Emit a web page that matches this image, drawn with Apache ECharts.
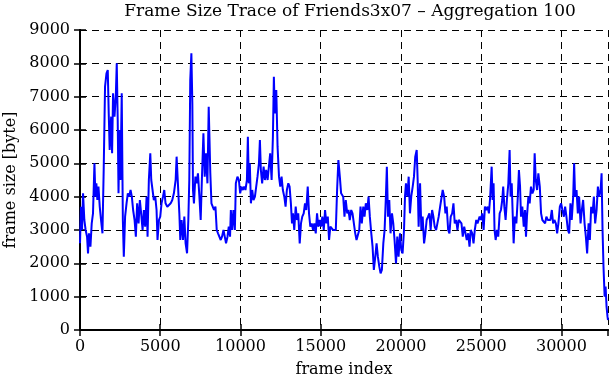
<!DOCTYPE html>
<html>
<head>
<meta charset="utf-8">
<script src="https://cdn.jsdelivr.net/npm/echarts@6/dist/echarts.min.js"></script>
<style>
html, body { margin: 0; padding: 0; background: #fff; }
#chart { width: 611px; height: 380px; }
</style>
</head>
<body>
<div id="chart"></div>
<script>
// frame index of each aggregated sample
var frameIdx = [
    0, 60, 125, 190, 270, 350, 440, 500, 560, 650, 730, 810, 900, 960, 1020, 1080, 1150, 1230, 1310, 1400,
    1480, 1560, 1650, 1730, 1790, 1850, 1940, 2000, 2060, 2150, 2230, 2290, 2350, 2400, 2460, 2520, 2600, 2670, 2730, 2810,
    2900, 2980, 3060, 3150, 3230, 3310, 3400, 3480, 3560, 3650, 3730, 3810, 3900, 3980, 4060, 4150, 4210, 4290, 4380, 4440,
    4520, 4600, 4690, 4770, 4830, 4920, 5000, 5080, 5170, 5250, 5330, 5440, 5540, 5650, 5750, 5850, 5960, 6020, 6100, 6190,
    6250, 6330, 6420, 6500, 6580, 6670, 6750, 6810, 6870, 6940, 7000, 7040, 7100, 7190, 7270, 7350, 7440, 7520, 7600, 7690,
    7770, 7850, 7940, 8020, 8120, 8190, 8270, 8350, 8440, 8520, 8600, 8690, 8770, 8850, 8940, 9020, 9100, 9190, 9270, 9350,
    9400, 9480, 9560, 9650, 9710, 9810, 9900, 9980, 10060, 10150, 10230, 10310, 10400, 10460, 10520, 10580, 10650, 10730, 10810, 10900,
    10980, 11060, 11150, 11210, 11270, 11350, 11440, 11520, 11600, 11690, 11770, 11850, 11940, 12020, 12080, 12140, 12230, 12310, 12400, 12480,
    12560, 12640, 12730, 12810, 12890, 12980, 13060, 13140, 13210, 13270, 13350, 13440, 13520, 13600, 13690, 13770, 13850, 13940, 14020, 14100,
    14190, 14270, 14350, 14440, 14520, 14600, 14690, 14770, 14850, 14940, 15020, 15100, 15190, 15270, 15350, 15440, 15520, 15600, 15690, 15770,
    15850, 15940, 16020, 16100, 16190, 16270, 16400, 16480, 16560, 16650, 16730, 16810, 16900, 16980, 17060, 17150, 17230, 17310, 17400, 17480,
    17560, 17650, 17730, 17810, 17900, 17980, 18060, 18150, 18230, 18310, 18400, 18480, 18560, 18650, 18730, 18810, 18900, 18980, 19060, 19120,
    19190, 19270, 19350, 19440, 19520, 19600, 19690, 19770, 19850, 19940, 20020, 20100, 20190, 20250, 20310, 20400, 20480, 20560, 20640, 20730,
    20810, 20890, 20980, 21040, 21100, 21190, 21270, 21350, 21440, 21520, 21600, 21690, 21770, 21850, 21940, 22020, 22100, 22190, 22270, 22350,
    22440, 22520, 22600, 22690, 22770, 22850, 22940, 23020, 23100, 23190, 23270, 23350, 23440, 23520, 23600, 23690, 23770, 23850, 23940, 24020,
    24100, 24190, 24270, 24350, 24440, 24520, 24600, 24690, 24770, 24900, 24980, 25060, 25150, 25230, 25310, 25400, 25480, 25560, 25650, 25710,
    25770, 25830, 25900, 25980, 26060, 26150, 26230, 26310, 26370, 26440, 26520, 26600, 26690, 26770, 26830, 26900, 26960, 27020, 27100, 27190,
    27270, 27350, 27420, 27480, 27560, 27650, 27730, 27790, 27850, 27940, 28020, 28100, 28190, 28270, 28330, 28400, 28480, 28560, 28650, 28730,
    28810, 28900, 28980, 29060, 29150, 29230, 29310, 29400, 29480, 29560, 29650, 29730, 29810, 29900, 29980, 30060, 30150, 30230, 30310, 30400,
    30480, 30560, 30640, 30730, 30790, 30850, 30940, 31020, 31100, 31190, 31270, 31350, 31440, 31520, 31600, 31690, 31770, 31850, 31940, 32020,
    32100, 32190, 32270, 32350, 32440, 32500, 32560, 32620, 32690, 32750, 32810, 32870, 32900
];
// frame size in bytes
var frameSize = [
    2600, 3700, 3000, 4100, 3300, 3000, 2800, 2300, 2900, 2500, 3200, 3500, 5000, 4000, 4400, 3900, 4300, 3700, 3300, 2900,
    4900, 7300, 7700, 7800, 6500, 5400, 6400, 5300, 7100, 6400, 7000, 8000, 6300, 4100, 6000, 4500, 7100, 3300, 2200, 3400,
    3800, 4100, 4000, 4200, 4000, 3600, 3300, 2800, 3800, 3200, 3900, 3500, 3000, 3600, 3100, 4000, 2800, 4500, 5300, 4500,
    4200, 3900, 4000, 3600, 2700, 3300, 3400, 3800, 4000, 4200, 3800, 3700, 3700, 3800, 3900, 4100, 4500, 5200, 4400, 3500,
    2700, 3300, 2700, 3400, 2600, 2300, 3300, 4500, 7500, 8300, 6800, 4200, 3800, 4600, 4400, 4700, 4000, 3300, 4600, 5900,
    4600, 5300, 4400, 6700, 4700, 3800, 3700, 3600, 3700, 3000, 2900, 2900, 2700, 2800, 3000, 2800, 2600, 2800, 3100, 2800,
    3600, 3000, 3600, 3000, 4400, 4600, 4500, 4100, 4300, 4200, 4300, 4200, 4500, 5800, 4400, 5000, 3800, 4200, 3900, 4000,
    4000, 4600, 5000, 5700, 4800, 4400, 4900, 4500, 4800, 4500, 4900, 5300, 4500, 5800, 7600, 6500, 7200, 5500, 4600, 4300,
    4600, 4200, 4000, 3700, 4200, 4400, 4300, 3800, 3200, 3500, 3000, 3700, 3300, 3500, 2600, 3200, 3400, 3500, 3800, 3600,
    4300, 3500, 3100, 3200, 3000, 3200, 2900, 3500, 3100, 3300, 3100, 3400, 3000, 3600, 3200, 3400, 2700, 3100, 3100, 3000,
    3000, 3000, 4200, 5100, 4600, 4100, 4000, 3400, 3900, 3500, 3600, 3300, 3600, 3500, 3500, 2900, 2700, 2700, 3000, 3700,
    3200, 3700, 3400, 3800, 3600, 4000, 3400, 2900, 2500, 1800, 2200, 2600, 2200, 1900, 1700, 1800, 2600, 3000, 4000, 4900,
    3400, 3900, 2900, 3500, 3200, 2700, 2000, 2800, 2200, 2900, 2400, 2300, 3000, 4000, 4400, 4000, 4600, 3500, 4000, 4300,
    4600, 5200, 5400, 4500, 3100, 4400, 3000, 3400, 2600, 2900, 3300, 3400, 3500, 3000, 3600, 3400, 3100, 3000, 3200, 3400,
    3700, 3700, 4200, 4000, 3500, 3700, 3000, 2900, 3400, 3500, 3800, 3200, 3300, 3000, 3300, 3300, 3200, 2800, 3100, 3100,
    2700, 2900, 2500, 3000, 2900, 2600, 3000, 3300, 3200, 3400, 3300, 3500, 3000, 3700, 3600, 3700, 3500, 4000, 4900, 3900,
    4400, 3000, 2700, 3000, 2800, 3500, 3600, 3900, 4300, 3700, 3300, 3900, 4400, 5400, 4000, 4400, 3500, 2600, 3400, 3200,
    3900, 4800, 4300, 3400, 3700, 3100, 3600, 2800, 3400, 4000, 3800, 4300, 4100, 4200, 5300, 4500, 4200, 4700, 4300, 3500,
    3300, 3300, 3200, 3400, 3300, 3300, 3300, 3600, 3200, 3300, 3200, 2900, 3200, 3700, 3800, 3600, 3400, 3700, 3400, 3000,
    2900, 3800, 3300, 4000, 5000, 4000, 4200, 3500, 4000, 3200, 3600, 3900, 3200, 2800, 2300, 3200, 2700, 3700, 3500, 4000,
    3200, 3600, 4300, 4000, 4200, 4700, 3000, 1900, 1000, 1300, 700, 400, 300
];
var xTicks = [0, 5000, 10000, 15000, 20000, 25000, 30000];
var yTicks = [0, 1000, 2000, 3000, 4000, 5000, 6000, 7000, 8000, 9000];

var serif = 'DejaVu Serif';
var points = [];
for (var i = 0; i < frameIdx.length; i++) {
    points.push([frameIdx[i], frameSize[i]]);
}

var dashed = { show: true, lineStyle: { color: '#000', type: [7, 5], width: 1 } };
var boxLine = { show: true, lineStyle: { color: '#000', width: 2 } };
var inTick = { show: true, inside: true, length: 6, lineStyle: { color: '#000', width: 1.5 } };

var myChart = echarts.init(document.getElementById('chart'));
var option = {
    animation: false,
    backgroundColor: '#fff',
    title: {
        text: 'Frame Size Trace of Friends3x07 \u2013 Aggregation 100',
        left: 345,
        textAlign: 'center',
        top: -2,
        textStyle: { fontFamily: serif, fontSize: 17, fontWeight: 'normal', color: '#000' }
    },
    grid: { left: 80, right: 3, top: 30, bottom: 50, containLabel: false, outerBoundsMode: 'none' },
    xAxis: [{
        type: 'value',
        min: 0,
        max: 32900,
        interval: 5000,
        name: 'frame index',
        nameLocation: 'middle',
        nameGap: 32,
        nameTextStyle: { fontFamily: serif, fontSize: 16, color: '#000' },
        axisLine: boxLine,
        axisTick: inTick,
        splitLine: dashed,
        axisLabel: {
            fontFamily: serif, fontSize: 16, color: '#000', margin: 9, showMaxLabel: false,
            formatter: function (v) { return xTicks.indexOf(v) >= 0 ? String(v) : ''; }
        }
    }, {
        type: 'value',
        position: 'top',
        min: 0,
        max: 32900,
        interval: 5000,
        axisLine: boxLine,
        axisTick: inTick,
        splitLine: { show: false },
        axisLabel: { show: false }
    }],
    yAxis: [{
        type: 'value',
        min: 0,
        max: 9000,
        interval: 1000,
        name: 'frame size [byte]',
        nameLocation: 'middle',
        nameGap: 61,
        nameTextStyle: { fontFamily: serif, fontSize: 16, color: '#000' },
        axisLine: boxLine,
        axisTick: inTick,
        splitLine: dashed,
        axisLabel: {
            fontFamily: serif, fontSize: 16, color: '#000', margin: 10,
            formatter: function (v) { return yTicks.indexOf(v) >= 0 ? String(v) : ''; }
        }
    }, {
        type: 'value',
        position: 'right',
        min: 0,
        max: 9000,
        interval: 1000,
        axisLine: boxLine,
        axisTick: inTick,
        splitLine: { show: false },
        axisLabel: { show: false }
    }],
    series: [{
        type: 'line',
        data: points,
        showSymbol: false,
        lineStyle: { color: '#0000ff', width: 2 },
        itemStyle: { color: '#0000ff' }
    }]
};
myChart.setOption(option);
</script>
</body>
</html>
